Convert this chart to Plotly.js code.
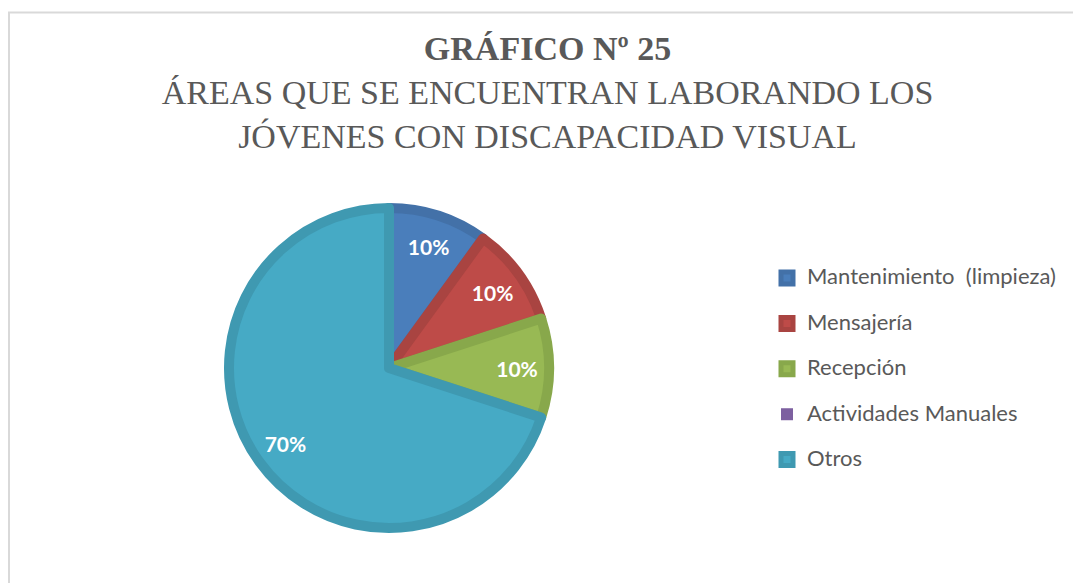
<!DOCTYPE html>
<html>
<head>
<meta charset="utf-8">
<script src="https://cdn.plot.ly/plotly-3.0.1.min.js"></script>
<style>
html,body{margin:0;padding:0;background:#fff;}
#chart{width:1073px;height:583px;}
</style>
</head>
<body>
<div id="chart"></div>
<script>
// ---- data ----
const categories = ["Mantenimiento  (limpieza)", "Mensajería", "Recepción", "Actividades Manuales", "Otros"];
const percents = [10, 10, 10, 0, 70];
const titleLine1 = "GRÁFICO Nº 25";
const titleLine2 = "ÁREAS QUE SE ENCUENTRAN LABORANDO LOS";
const titleLine3 = "JÓVENES CON DISCAPACIDAD VISUAL";

// ---- styles ----
const fillColors = ["#4A7EBB", "#BE4B48", "#98B954", "#7D60A0", "#46AAC5"];
const edgeColors = ["#4371A8", "#A94441", "#88A84B", "#705690", "#3F99B1"];

const W = 1073, H = 583;
const cx = 389, cy = 368, R = 160;
const domain = { x: [(cx - R) / W, (cx + R) / W], y: [(H - cy - R) / H, (H - cy + R) / H] };
const legendLabels = categories.map(c => '<span style="font-size:22px">' + c + '</span><br> ');

const pie = {
  type: "pie",
  labels: legendLabels,
  values: percents,
  sort: false,
  direction: "clockwise",
  rotation: 0,
  marker: {
    colors: fillColors,
    line: { color: edgeColors, width: percents.map(v => v > 0 ? 10 : 0) }
  },
  textinfo: "none",
  hoverinfo: "label+percent",
  domain: domain
};

// transparent ring on top that carries the percentage labels
const labelsRing = {
  type: "pie",
  labels: legendLabels,
  values: percents,
  sort: false,
  direction: "clockwise",
  rotation: 0,
  hole: 0.6,
  showlegend: false,
  marker: {
    colors: percents.map(() => "rgba(0,0,0,0)"),
    line: { width: 0 }
  },
  texttemplate: percents.map(v => v > 0 ? "%{percent:.0%}" : ""),
  textposition: "inside",
  insidetextorientation: "horizontal",
  insidetextfont: { family: "Lato, 'Open Sans', sans-serif", size: 21, color: "#ffffff", weight: "bold" },
  hoverinfo: "skip",
  domain: domain
};

const layout = {
  width: W, height: H,
  margin: { l: 0, r: 0, t: 0, b: 0 },
  paper_bgcolor: "#ffffff",
  title: {
    text: "<b>" + titleLine1 + "</b><br>" + titleLine2 + "<br>" + titleLine3,
    font: { family: "'Liberation Serif', 'Times New Roman', serif", size: 34, color: "#595959" },
    x: 547.5 / W, xanchor: "center", xref: "paper",
    y: 1 - 60 / H, yanchor: "top", yref: "container"
  },
  showlegend: true,
  legend: {
    x: 767 / W, xanchor: "left",
    y: 1 - 379.5 / H, yanchor: "middle",
    valign: "top",
    font: { family: "Lato, 'Open Sans', sans-serif", size: 16.3, color: "#595959" },
    bgcolor: "rgba(0,0,0,0)",
    itemclick: false
  },
  shapes: [{
    type: "rect", xref: "paper", yref: "paper",
    x0: 9 / W, x1: 1.01, y0: -0.01, y1: 1 - 12.5 / H,
    line: { color: "#D9D9D9", width: 2 }, fillcolor: "rgba(0,0,0,0)", layer: "below"
  }]
};

Plotly.newPlot("chart", [pie, labelsRing], layout, { displayModeBar: false, staticPlot: true });
</script>
</body>
</html>
